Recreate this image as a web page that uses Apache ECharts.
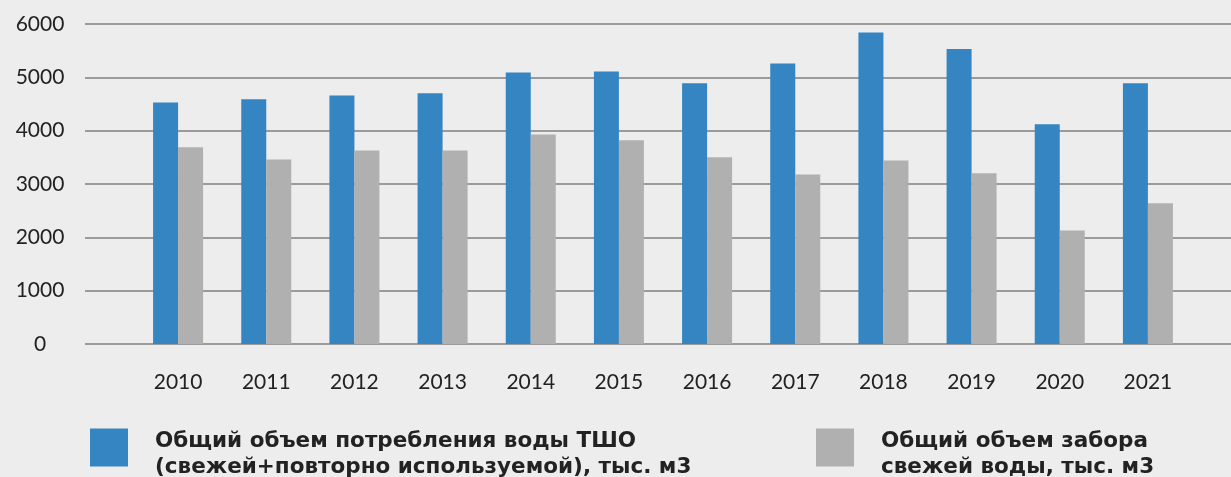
<!DOCTYPE html>
<html>
<head>
<meta charset="utf-8">
<script src="https://cdn.jsdelivr.net/npm/echarts@6/dist/echarts.min.js"></script>
<style>
  html, body { margin: 0; padding: 0; background: #ededed; }
  #chart { width: 1231px; height: 477px; }
</style>
</head>
<body>
<div id="chart"></div>
<script>
// годы
var years = ['2010', '2011', '2012', '2013', '2014', '2015', '2016', '2017', '2018', '2019', '2020', '2021'];
// Общий объем потребления воды ТШО
var consumption = [4530, 4590, 4660, 4700, 5090, 5110, 4890, 5260, 5840, 5530, 4120, 4890];
// Общий объем забора свежей воды
var intake = [3690, 3460, 3630, 3630, 3930, 3820, 3500, 3180, 3440, 3200, 2130, 2640];
var yTicks = [0, 1000, 2000, 3000, 4000, 5000, 6000];

var nameA = 'Общий объем потребления воды ТШО\n(свежей+повторно используемой), тыс. м3';
var nameB = 'Общий объем забора\nсвежей воды, тыс. м3';
var font = 'Lato, "Noto Sans", sans-serif';
var legendFont = '"DejaVu Sans", sans-serif';

// подпись легенды: пустая строка сверху сдвигает текст вниз относительно квадрата
function legendText(n) { return '{s| }\n' + n; }
var legendStyle = {
  fontFamily: legendFont, fontSize: 21.5, fontWeight: 'bold', color: '#222', lineHeight: 26,
  padding: [0, 0, 0, 22],
  rich: { s: { fontSize: 4, lineHeight: 13 } }
};

var myChart = echarts.init(document.getElementById('chart'));
myChart.setOption({
  backgroundColor: '#ededed',
  animation: false,
  textStyle: { fontFamily: font },
  color: ['#3585c2', '#afb0af'],
  legend: [
    {
      data: [nameA], formatter: legendText,
      left: 90, top: 415, padding: 0,
      icon: 'rect', itemWidth: 38, itemHeight: 38,
      textStyle: legendStyle
    },
    {
      data: [nameB], formatter: legendText,
      left: 816, top: 415, padding: 0,
      icon: 'rect', itemWidth: 38, itemHeight: 38,
      textStyle: legendStyle
    }
  ],
  // сетка 0: линии и подписи оси Y, сетка 1: столбцы
  grid: [
    { left: 85, right: 0, top: 24, height: 320 },
    { left: 134, width: 1058, top: 24, height: 320 }
  ],
  xAxis: [
    { gridIndex: 0, type: 'value', show: false },
    {
      gridIndex: 1, type: 'category', data: years,
      axisLine: { show: false }, axisTick: { show: false },
      axisLabel: { margin: 28, fontSize: 21, color: '#222', fontFamily: font }
    }
  ],
  yAxis: [
    {
      gridIndex: 0, type: 'value', min: yTicks[0], max: yTicks[yTicks.length - 1], interval: 1000,
      axisLine: { show: false }, axisTick: { show: false },
      axisLabel: {
        margin: 45, align: 'center', fontSize: 21, color: '#222', fontFamily: font,
        formatter: function (v) { return String(v); }
      },
      splitLine: { lineStyle: { color: '#9b9b9b', width: 2 } }
    },
    { gridIndex: 1, type: 'value', min: 0, max: 6000, show: false, splitLine: { show: false } }
  ],
  series: [
    { name: nameA, type: 'bar', xAxisIndex: 1, yAxisIndex: 1, data: consumption, barWidth: 25, barGap: '0%' },
    { name: nameB, type: 'bar', xAxisIndex: 1, yAxisIndex: 1, data: intake, barWidth: 25, barGap: '0%' }
  ]
});
</script>
</body>
</html>
